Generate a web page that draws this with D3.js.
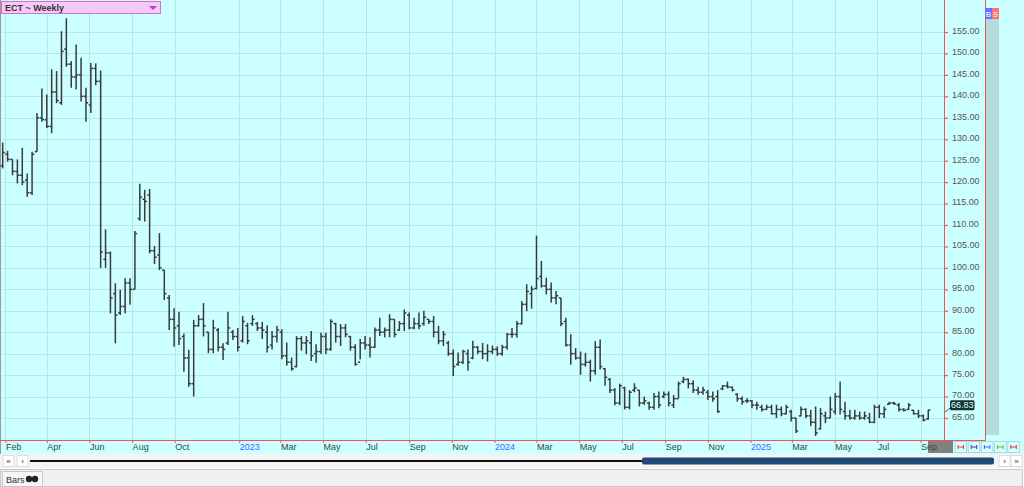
<!DOCTYPE html>
<html><head><meta charset="utf-8">
<script src="https://cdn.jsdelivr.net/npm/d3@7"></script>
<style>
body{margin:0;background:#fff;}
svg{display:block;font-family:"Liberation Sans",Arial,sans-serif;}
</style>
</head><body>
<svg id="c" width="1024" height="487"></svg>
<script>
// ---------- DATA ----------
const title = "ECT ~ Weekly";
const firstWeek = "2022-01-28"; // weekly bars, one per week
const opens = [123.8,126.5,125.3,122.5,121.6,120.5,117.5,127.1,135.0,134.5,
133.0,141.0,138.5,151.0,147.5,144.5,145.0,140.0,138.0,146.5,
143.5,102.0,103.5,94.0,89.5,91.0,96.5,95.0,111.5,116.0,
117.0,104.0,103.0,99.5,93.0,88.0,86.5,84.0,79.0,73.0,
86.5,88.0,85.0,81.0,85.5,81.5,82.5,85.0,84.0,83.0,
86.5,87.0,87.0,86.0,85.0,82.0,84.0,85.0,79.5,78.0,
77.0,83.5,82.5,82.5,80.0,80.5,84.0,81.0,87.0,84.0,
86.0,84.0,81.5,78.0,82.5,82.0,81.5,85.5,85.0,85.5,
88.0,85.5,87.0,89.0,86.0,87.0,87.0,88.0,87.5,85.0,
83.0,82.5,80.0,77.5,78.0,80.0,79.0,81.5,80.5,80.0,
80.5,81.0,80.0,81.5,84.5,84.5,87.0,91.5,94.0,95.2,
98.0,95.8,95.0,93.0,93.0,87.5,82.0,80.0,79.0,77.5,
78.0,76.0,81.5,76.5,74.0,71.5,68.5,72.0,67.5,71.5,
71.5,68.5,68.5,67.5,70.0,70.0,70.5,68.0,69.5,73.5,
74.0,73.0,71.5,71.0,71.0,70.0,70.0,71.8,72.5,72.2,
70.5,69.5,69.0,69.0,68.0,67.5,67.0,67.5,66.0,67.0,
66.0,66.5,65.0,65.5,67.0,65.5,64.0,62.5,65.5,65.0,
66.5,70.0,66.5,65.5,65.0,65.5,65.0,65.0,64.0,67.5,
66.0,68.2,68.5,68.0,67.0,67.0,66.8,66.0,65.5,64.8];
const highs = [129.2,127.3,125.3,125.3,128.0,122.0,127.1,136.1,141.8,140.4,
146.3,145.9,155.2,158.2,148.2,152.1,149.0,142.0,147.8,147.7,
146.0,109.0,103.8,96.4,94.9,97.6,97.6,108.6,119.6,118.2,
118.4,105.1,108.1,99.5,93.7,90.6,89.8,84.7,80.9,87.9,
89.0,91.8,85.1,87.9,86.0,82.4,89.8,85.5,86.0,88.8,
87.2,89.0,87.4,87.4,86.6,85.3,86.5,85.7,82.6,79.1,
84.1,84.1,84.1,85.3,82.2,84.9,84.9,88.0,87.2,86.9,
86.9,84.1,82.2,83.4,84.1,83.8,86.1,88.4,86.1,89.2,
88.0,87.6,90.3,89.6,88.4,89.6,90.0,88.0,88.8,86.5,
85.3,83.0,81.0,80.3,80.9,81.0,83.0,81.8,82.5,82.2,
81.9,81.7,82.1,84.8,86.0,87.6,92.3,96.2,95.8,107.5,
101.6,97.7,96.6,94.6,93.0,88.4,84.5,81.3,80.5,80.2,
78.6,82.9,83.3,76.6,74.3,72.0,73.0,72.3,71.5,73.1,
71.5,70.0,68.8,70.8,71.2,71.2,71.2,70.4,73.5,74.6,
74.2,73.8,72.3,72.3,71.5,71.2,71.5,72.7,73.5,72.3,
70.8,70.0,69.6,69.2,68.8,68.1,68.1,68.1,68.1,67.7,
68.1,66.9,65.0,67.7,67.3,66.9,67.7,67.3,66.5,70.0,
70.8,73.5,68.8,66.9,66.9,66.5,66.5,66.2,68.1,68.1,
67.7,68.8,68.8,68.5,67.3,68.5,66.9,66.9,65.8,66.9];
const lows = [123.2,124.8,121.6,119.7,119.3,116.6,117.0,127.1,134.1,132.6,
131.4,138.4,138.0,146.9,142.0,141.6,138.8,134.1,136.1,142.6,
100.0,100.0,89.4,82.4,89.0,89.4,91.4,95.0,111.0,110.8,
103.4,100.9,99.5,92.5,85.5,81.6,82.0,75.8,72.3,70.0,
86.3,84.0,80.1,80.1,80.5,78.5,82.0,83.2,80.5,82.6,
82.2,86.5,85.3,83.4,80.3,81.0,82.6,78.7,77.2,76.0,
76.8,80.7,79.9,78.3,77.9,79.9,79.9,80.7,82.6,81.8,
83.8,80.7,77.2,78.7,81.0,79.1,81.4,84.1,83.8,83.8,
83.8,85.3,85.3,85.7,85.7,85.7,86.5,86.9,83.8,82.2,
81.8,79.5,74.8,77.2,77.6,76.0,78.7,79.9,78.7,78.2,
79.9,79.5,79.5,80.9,83.7,83.7,86.8,89.9,90.5,95.0,
95.4,93.8,91.9,91.5,86.4,81.7,77.4,78.6,75.1,77.0,
73.5,75.1,76.3,72.5,70.8,68.0,68.0,67.0,67.0,71.0,
67.7,68.1,66.9,66.9,67.3,69.6,67.7,67.3,69.6,73.1,
71.9,70.8,70.4,70.4,69.2,68.8,66.2,71.5,71.9,71.2,
68.8,68.1,68.5,67.3,66.9,66.5,66.9,65.8,65.0,65.4,
65.8,64.2,61.5,65.4,65.0,63.1,60.8,62.3,63.8,65.0,
65.8,65.8,64.6,64.6,64.6,64.6,64.6,63.8,63.8,65.0,
65.0,68.1,68.1,66.5,66.5,66.9,65.8,65.0,64.2,64.6];
const closes = [126.9,125.3,122.5,121.6,120.0,117.5,126.5,135.0,134.6,133.0,
141.0,139.0,150.5,147.5,144.5,145.0,140.0,138.5,146.5,143.5,
103.7,103.5,93.0,89.0,91.0,96.5,95.0,108.0,116.5,115.5,
104.0,102.5,100.0,94.0,88.0,86.0,83.5,79.0,73.0,86.5,
88.0,86.5,81.0,86.0,81.5,81.0,86.0,84.0,81.5,87.5,
83.0,88.0,86.0,85.5,81.5,84.0,85.5,79.5,78.0,76.5,
83.5,82.5,83.0,79.5,80.5,84.0,81.0,87.5,84.0,86.0,
84.5,81.5,77.5,82.5,82.0,81.5,85.5,85.0,85.5,88.0,
84.5,87.0,89.5,86.0,87.0,86.5,88.5,87.5,85.0,83.0,
84.5,80.0,77.0,78.0,80.5,78.0,81.5,80.5,80.0,80.5,
81.0,80.0,81.5,84.5,84.5,87.0,91.5,94.5,95.0,97.5,
95.8,95.0,93.0,93.5,87.0,82.0,80.0,79.0,77.5,78.0,
76.0,81.5,77.0,74.5,71.5,68.5,72.5,67.5,71.0,72.0,
68.5,69.0,67.5,70.0,68.0,70.5,68.5,69.5,73.0,74.0,
73.0,71.5,71.0,71.5,70.0,69.5,66.5,72.5,72.2,71.5,
69.5,68.8,69.0,68.0,68.0,67.0,67.5,66.0,67.0,66.0,
67.5,65.0,62.0,67.0,65.5,64.0,61.5,66.0,65.0,67.0,
70.0,67.0,65.5,65.0,65.5,65.0,65.5,64.0,67.5,66.0,
67.0,68.5,68.3,67.0,66.8,68.0,66.0,65.5,64.5,66.83];
const tickDates = ["2022-02-01","2022-04-01","2022-06-01","2022-08-01","2022-10-01",
"2023-01-01","2023-03-01","2023-05-01","2023-07-01","2023-09-01","2023-11-01",
"2024-01-01","2024-03-01","2024-05-01","2024-07-01","2024-09-01","2024-11-01",
"2025-01-01","2025-03-01","2025-05-01","2025-07-01","2025-09-01"];
const tickLabels = ["Feb","Apr","Jun","Aug","Oct","2023","Mar","May","Jul","Sep","Nov",
"2024","Mar","May","Jul","Sep","Nov","2025","Mar","May","Jul","Sep"];
const yTicks = [65,70,75,80,85,90,95,100,105,110,115,120,125,130,135,140,145,150,155];
const lastValue = 66.83;

// ---------- SETUP ----------
const svg = d3.select("#c");
const parse = d3.timeParse("%Y-%m-%d");
const start = parse(firstWeek);
const bars = opens.map((o,i)=>({date:d3.timeDay.offset(start,7*i),o,h:highs[i],l:lows[i],c:closes[i]}));
const tDates = tickDates.map(parse);

const plotL=2, plotR=944, plotT=0, plotB=440;
const x = d3.scaleTime().domain([new Date(2022,0,27), new Date(2025,9,4,12)]).range([plotL,plotR]);
const y = d3.scaleLinear().domain([65,155]).range([418,32]);

const bg="#ccffff", grid="#b6e7e7", red="#ee5555";

// backgrounds
svg.append("rect").attr("x",0).attr("y",0).attr("width",1024).attr("height",454).attr("fill",bg);
svg.append("rect").attr("x",986).attr("y",19).attr("width",13).attr("height",416).attr("fill","#b5dcdc");

// grid
const g = svg.append("g");
g.selectAll("line.h").data(yTicks).join("line")
 .attr("x1",plotL).attr("x2",plotR).attr("y1",d=>Math.round(y(d))+0.5).attr("y2",d=>Math.round(y(d))+0.5)
 .attr("stroke",grid).attr("stroke-width",1);
g.selectAll("line.v").data(tDates).join("line")
 .attr("x1",d=>Math.round(x(d))+0.5).attr("x2",d=>Math.round(x(d))+0.5).attr("y1",plotT).attr("y2",plotB)
 .attr("stroke",grid).attr("stroke-width",1);

// left border
svg.append("line").attr("x1",0.5).attr("x2",0.5).attr("y1",0).attr("y2",454).attr("stroke","#999");

// OHLC bars
const bg2 = svg.append("g").attr("stroke","#3a3a3a").attr("stroke-width",1.5).attr("fill","none");
bars.forEach(b=>{
  const cx = x(b.date);
  bg2.append("line").attr("x1",cx).attr("x2",cx).attr("y1",y(b.h)).attr("y2",y(b.l));
  bg2.append("line").attr("x1",cx-2.2).attr("x2",cx).attr("y1",y(b.o)).attr("y2",y(b.o));
  bg2.append("line").attr("x1",cx).attr("x2",cx+2.2).attr("y1",y(b.c)).attr("y2",y(b.c));
});

// Y axis (right)
const yAxis = d3.axisRight(y).tickValues(yTicks).tickFormat(d3.format(".2f")).tickSize(4).tickPadding(4);
const ya = svg.append("g").attr("transform",`translate(${plotR},0)`).call(yAxis);
ya.select(".domain").remove();
ya.selectAll(".tick line").attr("stroke",red).attr("stroke-width",1.2);
ya.selectAll(".tick text").attr("fill","#555").attr("font-size",9).attr("dy","0.15em")
  .attr("font-family","'Liberation Sans',Arial,sans-serif");

// red frame lines
svg.append("line").attr("x1",plotR+0.5).attr("x2",plotR+0.5).attr("y1",0).attr("y2",plotB).attr("stroke",red);
svg.append("line").attr("x1",985.5).attr("x2",985.5).attr("y1",0).attr("y2",plotB).attr("stroke",red);

// crosshair date box
svg.append("rect").attr("x",928).attr("y",441).attr("width",25).attr("height",12).attr("fill","#808080");

// X axis
const xAxis = d3.axisBottom(x).tickValues(tDates).tickFormat((d,i)=>tickLabels[i]).tickSize(3).tickPadding(1);
const xa = svg.append("g").attr("transform",`translate(0,${plotB})`).call(xAxis);
xa.select(".domain").remove();
xa.selectAll(".tick line").attr("stroke",red);
xa.selectAll(".tick text").attr("text-anchor","start").attr("x",0).attr("font-size",9)
  .attr("font-family","'Liberation Sans',Arial,sans-serif")
  .attr("fill",(d,i)=>/^\d{4}$/.test(tickLabels[i])?"#4466ff":"#444");
svg.append("line").attr("x1",0).attr("x2",986).attr("y1",plotB+0.5).attr("y2",plotB+0.5).attr("stroke",red);

// last value label
const ly = y(lastValue);
svg.append("line").attr("x1",plotR+1).attr("x2",950).attr("y1",ly+2).attr("y2",ly-2).attr("stroke","#335").attr("stroke-width",0.8);
svg.append("rect").attr("x",950).attr("y",ly-10).attr("width",24.5).attr("height",10).attr("rx",1.5).attr("fill","#113535");
svg.append("text").attr("x",962.2).attr("y",ly-1.8).attr("text-anchor","middle").attr("font-size",9)
  .attr("fill","#e8ffff").text(d3.format(".2f")(lastValue));

// title box
svg.append("rect").attr("x",1.5).attr("y",1.5).attr("width",159).attr("height",12).attr("fill","#f7c9f7").attr("stroke","#d070d0");
svg.append("text").attr("x",5).attr("y",11).attr("font-size",9).attr("font-weight","bold").attr("fill","#333").text(title);
svg.append("path").attr("d","M149,6 L157,6 L153,10 Z").attr("fill","#cc33cc");

// B / S boxes
svg.append("rect").attr("x",985).attr("y",8).attr("width",7).attr("height",11).attr("fill","#6f6fff");
svg.append("rect").attr("x",992).attr("y",8).attr("width",7).attr("height",11).attr("fill","#ff7070");
svg.append("text").attr("x",988.5).attr("y",17).attr("text-anchor","middle").attr("font-size",8).attr("fill","#fff").text("B");
svg.append("text").attr("x",995.5).attr("y",17).attr("text-anchor","middle").attr("font-size",8).attr("fill","#fff").text("S");

// small tool buttons
const btnCols = ["#e33","#33c","#36f","#3c3","#e33"];
btnCols.forEach((c,i)=>{
  const bx = 955+i*13.2;
  svg.append("rect").attr("x",bx).attr("y",441.5).attr("width",11.5).attr("height",11).attr("fill","#d8ffff").attr("stroke","#a8d8d8");
  svg.append("path").attr("d",`M${bx+3},${447} L${bx+8.5},${447} M${bx+3},${445} L${bx+3},${449} M${bx+8.5},${445} L${bx+8.5},${449}`)
   .attr("stroke",c).attr("stroke-width",1).attr("fill","none");
});

// scrollbar row
svg.append("rect").attr("x",0).attr("y",454).attr("width",1024).attr("height",14).attr("fill","#f4f4f4");
[[3,"«"],[17,"‹"]].forEach(([bx,t])=>{
  svg.append("rect").attr("x",bx).attr("y",455.5).attr("width",11).attr("height",11).attr("fill","#fff").attr("stroke","#ddd");
  svg.append("text").attr("x",bx+5.5).attr("y",464).attr("text-anchor","middle").attr("font-size",8).attr("fill","#333").text(t);
});
[[999,"›"],[1011,"»"]].forEach(([bx,t])=>{
  svg.append("rect").attr("x",bx).attr("y",455.5).attr("width",11).attr("height",11).attr("fill","#fff").attr("stroke","#ddd");
  svg.append("text").attr("x",bx+5.5).attr("y",464).attr("text-anchor","middle").attr("font-size",8).attr("fill","#333").text(t);
});
svg.append("line").attr("x1",30).attr("x2",643).attr("y1",461).attr("y2",461).attr("stroke","#111").attr("stroke-width",2);
svg.append("rect").attr("x",642).attr("y",457.5).attr("width",352).attr("height",7).attr("rx",2).attr("fill","#1f4a78");

// bottom panel
svg.append("rect").attr("x",0.5).attr("y",469.5).attr("width",1022).attr("height",17).attr("fill","#f0f0f0").attr("stroke","#c8c8c8");
svg.append("rect").attr("x",2.5).attr("y",471.5).attr("width",40).attr("height",15).attr("fill","#f6f6f6").attr("stroke","#c8c8c8");
svg.append("text").attr("x",6).attr("y",482.5).attr("font-size",9).attr("fill","#333").text("Bars");
svg.append("circle").attr("cx",29).attr("cy",479).attr("r",3.2).attr("fill","#222");
svg.append("circle").attr("cx",35).attr("cy",479).attr("r",3.2).attr("fill","#222");
</script>
</body></html>
